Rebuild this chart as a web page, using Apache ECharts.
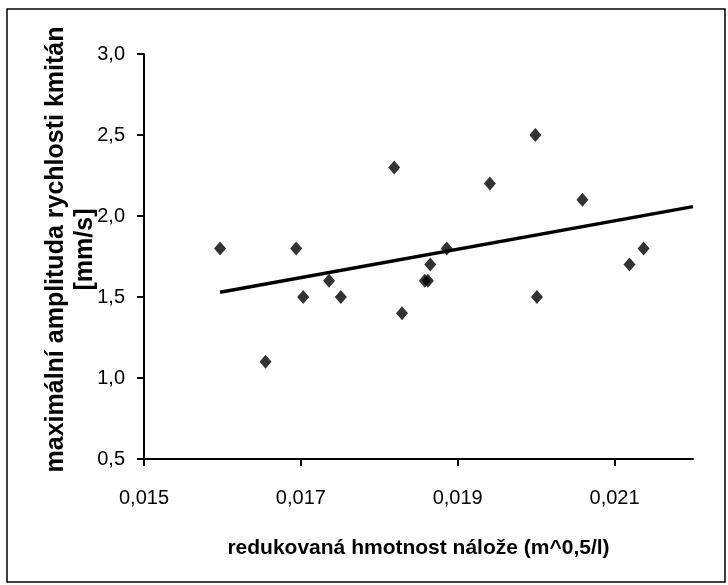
<!DOCTYPE html>
<html>
<head>
<meta charset="utf-8">
<script src="https://cdn.jsdelivr.net/npm/echarts@6/dist/echarts.min.js"></script>
<style>
html,body{margin:0;padding:0;background:#fff;}
#chart{width:728px;height:585px;}
</style>
</head>
<body>
<div id="chart"></div>
<script>
// Data
var xValues = [0.01597, 0.01655, 0.01694, 0.01703, 0.01736, 0.01751, 0.01819, 0.01829, 0.01858, 0.01862, 0.01865, 0.01886, 0.01941, 0.01999, 0.02001, 0.02059, 0.02119, 0.02137];
var yValues = [1.8, 1.1, 1.8, 1.5, 1.6, 1.5, 2.3, 1.4, 1.6, 1.6, 1.7, 1.8, 2.2, 2.5, 1.5, 2.1, 1.7, 1.8];
var trendX = [0.01597, 0.022];
var trendY = [1.529, 2.058];
var xTicks = [0.015, 0.017, 0.019, 0.021];
var yTicks = [0.5, 1.0, 1.5, 2.0, 2.5, 3.0];
var xTitle = 'redukovaná hmotnost nálože (m^0,5/l)';
var yTitle = 'maximální amplituda rychlosti kmitán\n[mm/s]';

var points = xValues.map(function (x, i) { return [x, yValues[i]]; });
var trend = trendX.map(function (x, i) { return [x, trendY[i]]; });

var chart = echarts.init(document.getElementById('chart'), null, {renderer: 'canvas'});
var font = 'Liberation Sans, Arial, sans-serif';
chart.setOption({
  animation: false,
  backgroundColor: '#fff',
  graphic: [{
    type: 'rect',
    shape: {x: 7, y: 9, width: 718, height: 573},
    style: {fill: 'none', stroke: '#000', lineWidth: 1.5},
    z: 100
  }],
  grid: {left: 144, top: 54, width: 549, height: 405, containLabel: false},
  xAxis: {
    type: 'value',
    min: 0.015, max: 0.022,
    name: xTitle,
    nameLocation: 'middle',
    nameGap: 79,
    nameMoveOverlap: false,
    nameTextStyle: {fontFamily: font, fontSize: 21, fontWeight: 'bold', color: '#000'},
    axisLine: {show: true, lineStyle: {color: '#000', width: 2}},
    axisTick: {show: true, length: 7, lineStyle: {color: '#000', width: 2}, customValues: xTicks},
    axisLabel: {
      customValues: xTicks,
      margin: 29,
      fontFamily: font, fontSize: 20, color: '#000',
      formatter: function (v) { return v.toFixed(3).replace('.', ','); }
    },
    splitLine: {show: false}
  },
  yAxis: {
    type: 'value',
    min: 0.5, max: 3.0, interval: 0.5,
    name: yTitle,
    nameLocation: 'middle',
    nameGap: 44,
    nameMoveOverlap: false,
    nameTextStyle: {fontFamily: font, fontSize: 25, fontWeight: 'bold', color: '#000', lineHeight: 29, align: 'center', padding: [0, 0, 0, 14]},
    axisLine: {show: true, lineStyle: {color: '#000', width: 2}},
    axisTick: {show: true, length: 7, lineStyle: {color: '#000', width: 2}, customValues: yTicks},
    axisLabel: {
      customValues: yTicks,
      margin: 19,
      fontFamily: font, fontSize: 20, color: '#000',
      formatter: function (v) { return v.toFixed(1).replace('.', ','); }
    },
    splitLine: {show: false}
  },
  series: [{
    type: 'line',
    data: trend,
    showSymbol: false,
    symbol: 'none',
    lineStyle: {color: '#000', width: 3.5},
    z: 2,
    silent: true
  }, {
    type: 'scatter',
    data: points,
    symbol: 'diamond',
    symbolSize: [12, 14],
    itemStyle: {color: '#000'},
    z: 3
  }]
});
</script>
</body>
</html>
